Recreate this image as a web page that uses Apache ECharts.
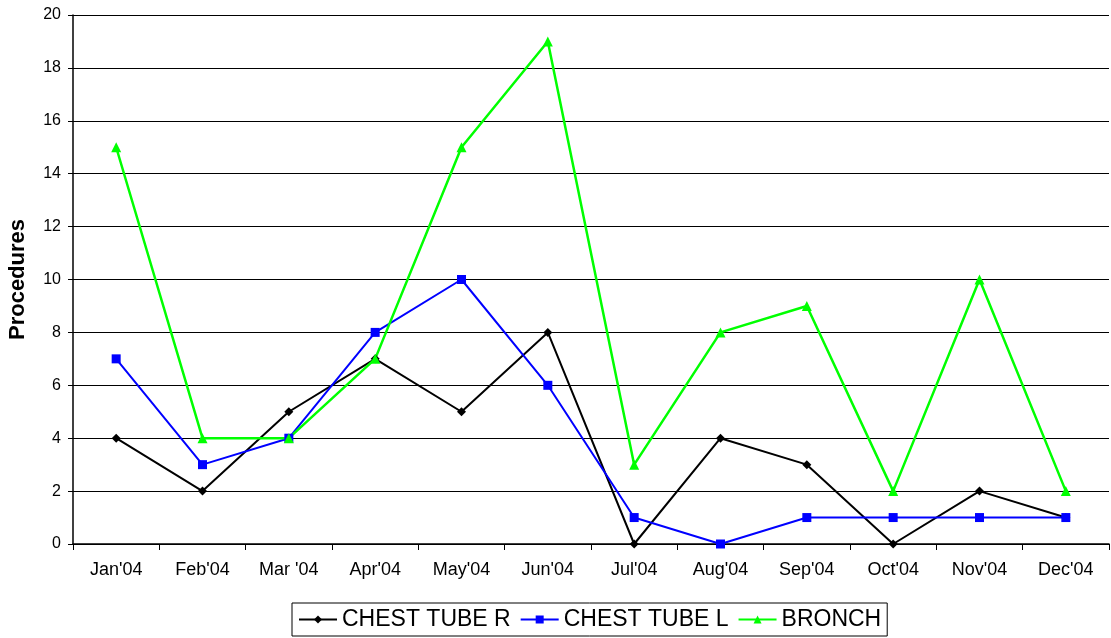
<!DOCTYPE html>
<html>
<head>
<meta charset="utf-8">
<script src="https://cdn.jsdelivr.net/npm/echarts@6/dist/echarts.min.js"></script>
<style>
  html, body { margin: 0; padding: 0; background: #fff; }
  #chart { width: 1111px; height: 638px; }
</style>
</head>
<body>
<div id="chart"></div>
<script>
const months = ["Jan'04", "Feb'04", "Mar '04", "Apr'04", "May'04", "Jun'04", "Jul'04", "Aug'04", "Sep'04", "Oct'04", "Nov'04", "Dec'04"];
const chestTubeR = [4, 2, 5, 7, 5, 8, 0, 4, 3, 0, 2, 1];
const chestTubeL = [7, 3, 4, 8, 10, 6, 1, 0, 1, 1, 1, 1];
const bronch = [15, 4, 4, 7, 15, 19, 3, 8, 9, 2, 10, 2];

const FONT = 'Liberation Sans, Arial, sans-serif';

const chart = echarts.init(document.getElementById('chart'));
chart.setOption({
  animation: false,
  textStyle: { fontFamily: FONT },
  grid: { left: 73, right: 2, top: 15, bottom: 94, outerBoundsMode: 'none' },
  legend: {
    top: 603,
    left: 292,
    itemWidth: 38,
    itemHeight: 10,
    itemGap: 9,
    padding: [5, 6, 5, 6],
    borderColor: '#000',
    borderWidth: 1,
    textStyle: { fontFamily: FONT, fontSize: 23, color: '#000' },
    data: ['CHEST TUBE R', 'CHEST TUBE L', 'BRONCH']
  },
  xAxis: {
    type: 'category',
    data: months,
    boundaryGap: true,
    axisLine: { lineStyle: { color: '#000', width: 1.5 } },
    axisTick: { show: true, length: 6, alignWithLabel: false, lineStyle: { color: '#000' } },
    axisLabel: { color: '#000', fontSize: 18, margin: 17, interval: 0 }
  },
  yAxis: {
    type: 'value',
    min: 0,
    max: 20,
    interval: 2,
    name: 'Procedures',
    nameLocation: 'middle',
    nameGap: 44,
    nameTextStyle: { fontFamily: FONT, fontSize: 22, fontWeight: 'bold', color: '#000' },
    axisLine: { show: true, lineStyle: { color: '#000', width: 1.5 } },
    axisTick: { show: true, length: 5, lineStyle: { color: '#000' } },
    axisLabel: { color: '#000', fontSize: 16, margin: 12 },
    splitLine: { lineStyle: { color: '#000', width: 1 } }
  },
  series: [
    {
      name: 'CHEST TUBE R',
      type: 'line',
      data: chestTubeR,
      symbol: 'diamond',
      symbolSize: 9,
      itemStyle: { color: '#000' },
      lineStyle: { color: '#000', width: 2 }
    },
    {
      name: 'CHEST TUBE L',
      type: 'line',
      data: chestTubeL,
      symbol: 'rect',
      symbolSize: 9,
      itemStyle: { color: '#0000ff' },
      lineStyle: { color: '#0000ff', width: 2 }
    },
    {
      name: 'BRONCH',
      type: 'line',
      data: bronch,
      symbol: 'triangle',
      symbolSize: 10,
      itemStyle: { color: '#00ff00' },
      lineStyle: { color: '#00ff00', width: 2.5 }
    }
  ]
});
</script>
</body>
</html>
